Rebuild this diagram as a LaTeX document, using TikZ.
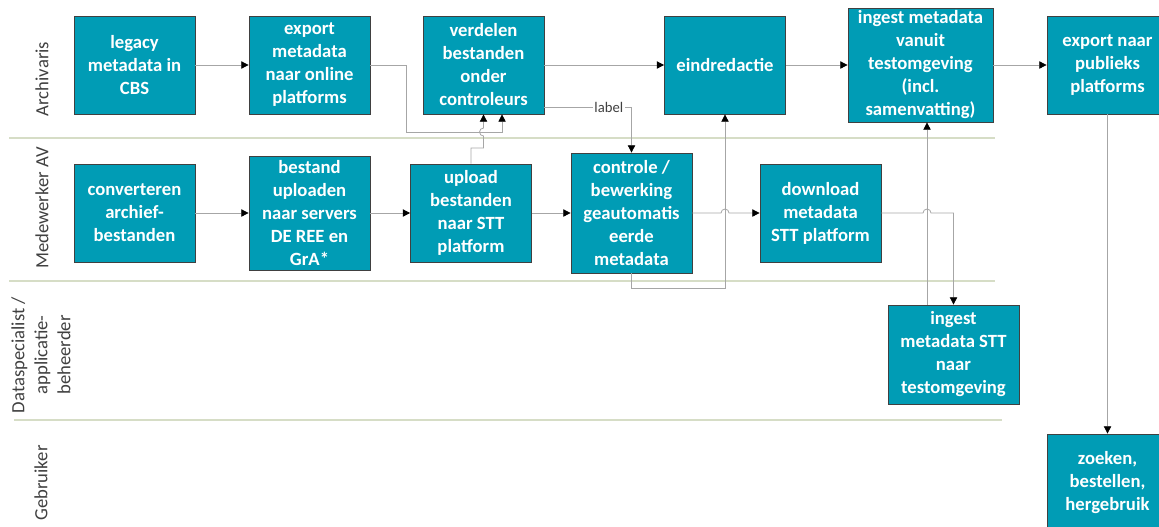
\documentclass[tikz,border=0pt]{standalone}
\usepackage{fontspec}
\setmainfont{Carlito}
\usetikzlibrary{arrows.meta}
\definecolor{boxteal}{RGB}{0,156,181}
\definecolor{linegray}{RGB}{166,166,166}
\definecolor{lanegreen}{RGB}{214,221,198}
\definecolor{lanetext}{RGB}{64,64,64}

\begin{document}
\begin{tikzpicture}[x=0.75pt,y=-0.75pt]
\tikzstyle{box} = [draw=black!75,fill=boxteal,line width=0.6pt,text=white,font=\fontsize{14}{17.25}\selectfont\bfseries,align=center,minimum width=90.75pt,minimum height=73.5pt,inner sep=0pt]
\tikzstyle{lane} = [rotate=90,text=lanetext,font=\fontsize{14}{17.25}\selectfont,align=center]
\tikzstyle{flow} = [draw=linegray,line width=0.6pt,-{Triangle[length=5.5pt,width=5.5pt,color=black]}]
\tikzstyle{sep} = [draw=lanegreen,line width=0.9pt]
\tikzstyle{elabel} = [fill=white,inner sep=1pt,text=lanetext,font=\fontsize{11}{13}\selectfont]

\useasboundingbox (0,0) rectangle (1159,526);

\draw[sep] (9,138) -- (995,138);
\draw[sep] (9,281) -- (995,281);
\draw[sep] (14,420) -- (1002,420);

\node[lane] (archivaris) at (42,79) {Archivaris};
\node[lane] (medewerker) at (42,208) {Medewerker AV};
\node[lane] (dataspec) at (41,355) {Dataspecialist /\\applicatie-\\beheerder};
\node[lane] (gebruiker) at (41,483) {Gebruiker};

\node[box] (legacy) at (134.5,65) {legacy\\metadata in\\CBS};
\node[box,right of=legacy,node distance=131.25pt] (exportmeta) {export\\metadata\\naar online\\platforms};
\node[box,right of=exportmeta,node distance=130.5pt] (verdelen) {verdelen\\bestanden\\onder\\controleurs};
\node[box] (eind) at (725,65) {eindredactie};
\node[box,minimum width=108.75pt,minimum height=85.5pt] (ingestvan) at (920.5,65) {ingest metadata\\vanuit\\testomgeving\\(incl.\\samenvatting)};
\node[box] (exportpub) at (1107.5,65) {export naar\\publieks\\platforms};

\node[box,below of=legacy,node distance=111pt] (converteren) {converteren\\archief-\\bestanden};
\node[box,minimum height=85.5pt] (uploaden) at (309.5,213) {bestand\\uploaden\\naar servers\\DE REE en\\GrA*};
\node[box] (upload) at (471,213) {upload\\bestanden\\naar STT\\platform};
\node[box,minimum height=90pt] (controle) at (631.5,213) {controle /\\bewerking\\geautomatis\\eerde\\metadata};
\node[box] (download) at (820.5,213) {download\\metadata\\STT platform};

\node[box,minimum width=98.25pt,minimum height=74.25pt] (ingeststt) at (953.5,354.5) {ingest\\metadata STT\\naar\\testomgeving};
\node[box,below of=exportpub,node distance=313.5pt] (zoeken) {zoeken,\\bestellen,\\hergebruik};

\coordinate (bendE) at (406,132);
\coordinate (hopV) at (verdelen.south |- bendE);
\coordinate (hopA) at (eind.south |- controle.east);
\coordinate (upx) at (927,0);
\coordinate (hopB) at (upx |- download.east);

\draw[flow] (legacy) -- (exportmeta);
\draw[flow] (exportmeta.east) -| (bendE) -| ([xshift=13.9pt]verdelen.south);
\draw[flow] (verdelen) -- (eind);
\draw[flow] (eind) -- (ingestvan);
\draw[flow] (ingestvan) -- (exportpub);
\draw[flow] (exportpub) -- (zoeken);

\draw[flow] (converteren) -- (uploaden);
\draw[flow] (uploaden) -- (upload);
\draw[flow] (upload) -- (controle);
\draw[flow] (upload.north) |- ([yshift=-12pt]hopV) -- ([yshift=-3pt]hopV) arc[start angle=270,end angle=90,radius=3pt] -- (verdelen.south);
\draw[flow] ([yshift=5.25pt]verdelen.south east) -| node[elabel,pos=0.37] {label} (controle.north);
\draw[flow] (controle.south) -- ++(0,15) -| (eind.south);
\draw[flow] (controle.east) -- ([xshift=-3pt]hopA) arc[start angle=180,end angle=0,radius=3pt] -- (download.west);
\draw[flow] (download.east) -- ([xshift=-3pt]hopB) arc[start angle=180,end angle=0,radius=3pt] -| (ingeststt.north);
\draw[flow] (ingeststt.north -| upx) -- (ingestvan.south -| upx);

\end{tikzpicture}
\end{document}
